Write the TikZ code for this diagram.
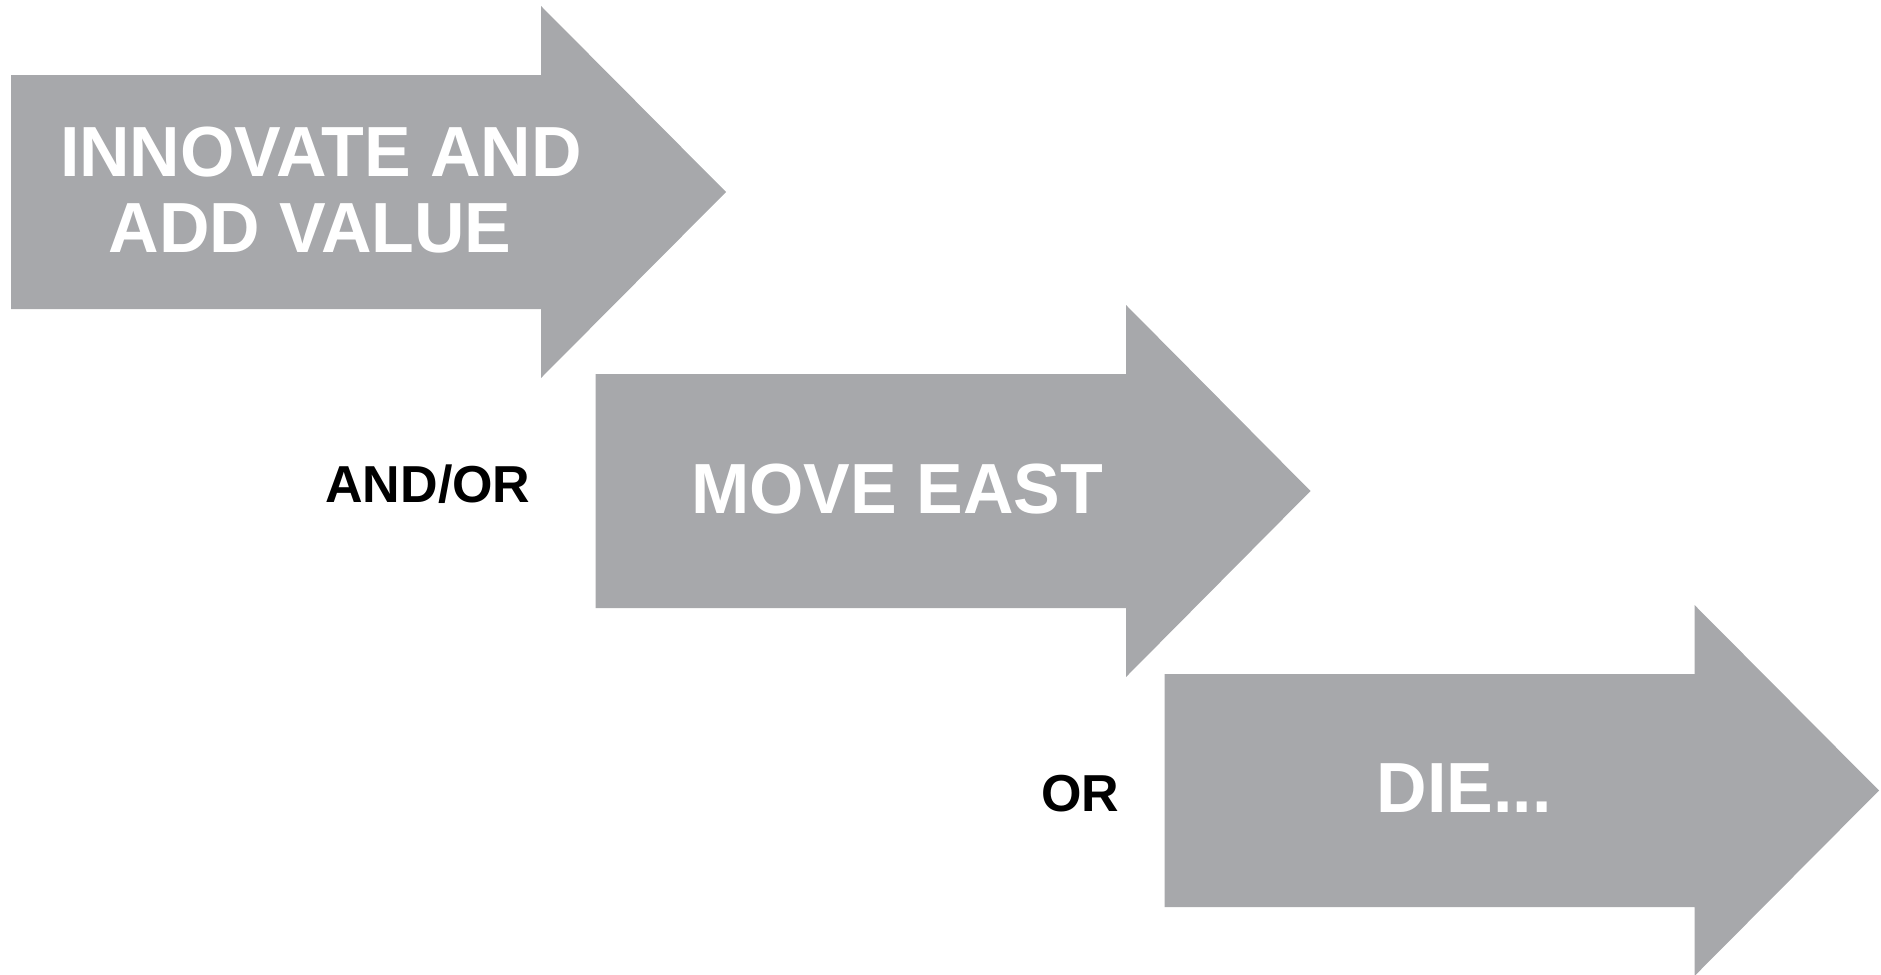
\documentclass[tikz,border=0pt]{standalone}
\usepackage{fontspec}
\setmainfont{Liberation Sans}
\newfontfamily\arrowfont{Liberation Sans}[FakeStretch=0.985]
\definecolor{arrowgray}{RGB}{167,168,171}
\begin{document}
\begin{tikzpicture}[x=1pt,y=-1pt,
  bigarrow/.style={fill=arrowgray},
  whitelabel/.style={text=white,anchor=base,inner sep=0pt,font=\arrowfont\bfseries\fontsize{71}{71}\selectfont},
  blacklabel/.style={text=black,anchor=base,inner sep=0pt,font=\bfseries\fontsize{52}{52}\selectfont}]
\useasboundingbox (0,0) rectangle (1881,974);
% arrow 1
\fill[bigarrow] (11,75) -- (541,75) -- (541,6) -- (726,192) -- (541,378) -- (541,309) -- (11,309) -- cycle;
% arrow 2
\fill[bigarrow] (595.5,374) -- (1126,374) -- (1126,305) -- (1310.5,491) -- (1126,677) -- (1126,608) -- (595.5,608) -- cycle;
% arrow 3
\fill[bigarrow] (1164.5,674) -- (1694.5,674) -- (1694.5,605) -- (1879,790.5) -- (1694.5,976) -- (1694.5,907) -- (1164.5,907) -- cycle;
% labels
\node[whitelabel] (l1a) at (321,176) {INNOVATE AND};
\node[whitelabel] (l1b) at (310,252) {ADD VALUE};
\node[whitelabel] (l2) at (897,513) {MOVE EAST};
\node[whitelabel] (l3) at (1464,812.5) {DIE...};
\node[blacklabel] (andor) at (428,502) {AND/OR};
\node[blacklabel] (or) at (1080.5,811.5) {OR};
\end{tikzpicture}
\end{document}
